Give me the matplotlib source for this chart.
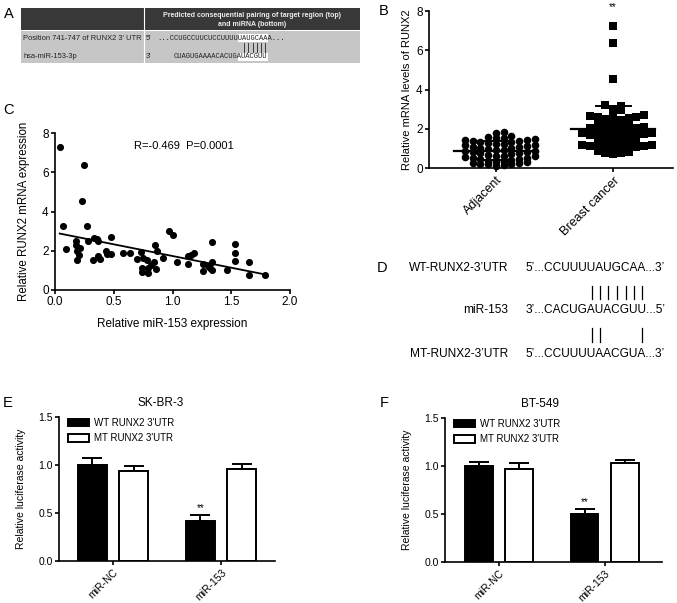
import numpy as np
import matplotlib
matplotlib.use('Agg')
import matplotlib.pyplot as plt
from matplotlib.patches import Rectangle

plt.rcParams['font.family'] = ['Liberation Sans', 'DejaVu Sans']

W, H = 677, 603

# ---- panel A: TargetScan table ----
a_header = 'Predicted consequential pairing of target region (top)\nand miRNA (bottom)'
a_rows = ["Position 741-747 of RUNX2 3' UTR", 'hsa-miR-153-3p']
a_ends = ["5'", "3'"]
a_top_seq = '...CCUGCCUUCUCCUUUUUAUGCAAA...'
a_bot_seq = 'CUAGUGAAAACACUGAUACGUU'
a_top_site = 'UAUGCAA'
a_bot_site = 'AUACGUU'

# ---- panel B: RUNX2 levels ----
b_groups = ['Adjacent', 'Breast cancer']
adjacent = [0.11, 0.15, 0.18, 0.20, 0.24, 0.27, 0.29, 0.22,
            0.32, 0.35, 0.38, 0.41, 0.44, 0.45, 0.49, 0.53, 0.56, 0.59,
            0.62, 0.63, 0.68, 0.71, 0.74, 0.77, 0.80, 0.83, 0.86, 0.89,
            0.91, 0.94, 0.97, 1.00, 1.04, 1.06, 1.09, 1.12, 1.15, 1.18,
            1.21, 1.24, 1.27, 1.30, 1.32, 1.36, 1.39, 1.41, 1.45, 1.48,
            1.51, 1.53, 1.58, 1.65, 1.80, 1.84]
breast_cancer = [0.72, 0.75, 0.78, 0.82, 0.86,
                 0.92, 0.95, 0.98, 1.00, 1.03, 1.06, 1.10, 1.13, 1.16, 1.19,
                 1.32, 1.35, 1.38, 1.42, 1.45, 1.48,
                 1.52, 1.55, 1.58, 1.60, 1.63, 1.66, 1.70, 1.73, 1.76, 1.79,
                 1.82, 1.86, 1.90, 1.94, 1.98, 2.02, 2.06, 2.09,
                 2.15, 2.22, 2.25, 2.30, 2.36,
                 2.42, 2.46, 2.50, 2.54, 2.58, 2.62, 2.66, 2.69,
                 2.80, 2.95, 3.02, 3.18, 3.22, 4.55, 6.35, 7.25]

# ---- panel C: correlation ----
mir153_expr = [0.04, 0.07, 0.09, 0.18, 0.18, 0.19, 0.21, 0.20, 0.19, 0.23,
               0.25, 0.27, 0.28, 0.32, 0.33, 0.36, 0.37, 0.37, 0.38, 0.43,
               0.44, 0.48, 0.48, 0.58, 0.64, 0.70, 0.73, 0.75, 0.74, 0.74,
               0.78, 0.79, 0.79, 0.82, 0.84, 0.85, 0.86, 0.87, 0.92, 0.97,
               1.00, 1.04, 1.13, 1.13, 1.16, 1.18, 1.26, 1.26, 1.30, 1.32,
               1.34, 1.34, 1.34, 1.46, 1.53, 1.53, 1.53, 1.65, 1.65, 1.79]
runx2_expr = [7.28, 3.27, 2.09, 2.52, 2.30, 2.00, 2.13, 1.79, 1.53, 4.56,
              6.35, 3.27, 2.52, 1.53, 2.64, 2.60, 2.52, 1.74, 1.57, 1.99,
              1.82, 1.84, 2.69, 1.87, 1.87, 1.57, 1.96, 1.65, 1.11, 0.90,
              1.53, 1.11, 0.85, 1.28, 1.41, 2.30, 1.06, 1.99, 1.65, 3.01,
              2.81, 1.41, 1.31, 1.74, 1.79, 1.87, 1.31, 0.97, 1.24, 1.14,
              1.45, 2.43, 1.02, 1.02, 2.35, 1.87, 1.48, 1.41, 0.77, 0.77]
c_stats = 'R=-0.469  P=0.0001'

# ---- panel D: binding sites ----
d_names = ['WT-RUNX2-3\u2019UTR', 'miR-153', 'MT-RUNX2-3\u2019UTR']
d_seqs = ["5\u2019...CCUUUUAUGCAA...3\u2019",
          "3\u2019...CACUGAUACGUU...5\u2019",
          "5\u2019...CCUUUUAACGUA...3\u2019"]

# ---- panels E/F: luciferase ----
luc_groups = ['miR-NC', 'miR-153']
luc_series = ["WT RUNX2 3'UTR", "MT RUNX2 3'UTR"]
skbr3_wt = [1.00, 0.42]
skbr3_wt_err = [0.07, 0.06]
skbr3_mt = [0.94, 0.955]
skbr3_mt_err = [0.05, 0.055]
bt549_wt = [1.00, 0.50]
bt549_wt_err = [0.04, 0.05]
bt549_mt = [0.97, 1.03]
bt549_mt_err = [0.06, 0.03]


def px_axes(fig, left, top, right, bottom):
    return fig.add_axes([left / W, 1 - bottom / H, (right - left) / W, (bottom - top) / H])


def style_axes(ax, size):
    for s in ['top', 'right']:
        ax.spines[s].set_visible(False)
    for s in ['left', 'bottom']:
        ax.spines[s].set_linewidth(1.2)
    ax.tick_params(direction='out', length=3, width=1.2, labelsize=size, pad=1.5)
    ax.set_facecolor('none')


def swarm_offsets(vals, bin_h, step):
    # GraphPad-like column scatter: bin by value, spread each bin sideways
    vals = np.asarray(vals)
    bins = np.floor(vals / bin_h).astype(int)
    offs = np.zeros(len(vals))
    for b in np.unique(bins):
        idx = np.where(bins == b)[0]
        idx = idx[np.argsort(vals[idx])]
        for k, i in enumerate(idx):
            offs[i] = ((k + 1) // 2) * step * (1 if k % 2 else -1)
    return offs


fig = plt.figure(figsize=(W / 100, H / 100), dpi=100)
ov = fig.add_axes([0, 0, 1, 1])
ov.set_xlim(0, W)
ov.set_ylim(H, 0)
ov.axis('off')
rend = fig.canvas.get_renderer()


def text_width(s, **kw):
    t = ov.text(0, 0, s, **kw)
    w = t.get_window_extent(renderer=rend).width
    t.remove()
    return w


# panel letters
for lab, x, y in [('A', 9, 14), ('B', 384, 11), ('C', 8, 110),
                  ('D', 382, 268), ('E', 8, 403), ('F', 384, 403)]:
    ov.text(x, y, lab, fontsize=10.5, ha='center', va='center')

# ---- A ----
ov.add_patch(Rectangle((21, 8), 339, 22, facecolor='#383838', edgecolor='none'))
ov.add_patch(Rectangle((21, 31), 339, 32, facecolor='#c6c6c6', edgecolor='none'))
ov.plot([143.5, 143.5], [8, 63], color='white', lw=0.8)
ov.text(252, 20, a_header, fontsize=5, fontweight='bold', color='#eeeeee',
        ha='center', va='center', linespacing=1.25)
for txt, end, y in zip(a_rows, a_ends, [38, 57]):
    ov.text(23, y, txt, fontsize=5.4, ha='left', va='center', color='#222222')
    ov.text(146, y, end, fontsize=5.4, ha='left', va='center', color='#222222')
mono = dict(fontsize=5.1, family='Liberation Mono')
cw = text_width('M' * 20, **mono) / 20
top_x0 = 157
top_site = a_top_seq.find(a_top_site)
bot_site = a_bot_seq.find(a_bot_site)
bot_x0 = top_x0 + (top_site - bot_site) * cw
ov.add_patch(Rectangle((top_x0 + top_site * cw, 33.5), len(a_top_site) * cw, 8,
                       facecolor='white', edgecolor='none'))
ov.add_patch(Rectangle((bot_x0 + bot_site * cw, 53), len(a_bot_site) * cw, 8,
                       facecolor='white', edgecolor='none'))
ov.text(top_x0, 38, a_top_seq, ha='left', va='center', color='#222222', **mono)
ov.text(bot_x0, 57, a_bot_seq, ha='left', va='center', color='#222222', **mono)
for i in range(top_site + 1, top_site + len(a_top_site)):
    xb = top_x0 + (i + 0.5) * cw
    ov.plot([xb, xb], [43, 52], color='#222222', lw=0.6)

# ---- B ----
axb = px_axes(fig, 429, 11, 673, 168)
style_axes(axb, 8.5)
for gi, (vals, mk) in enumerate(zip([adjacent, breast_cancer], ['o', 's'])):
    v = np.asarray(vals)
    xs = gi + swarm_offsets(v, 0.3, 0.066)
    axb.scatter(xs, v, s=30 if mk == 'o' else 26, marker=mk, color='black',
                linewidths=0, zorder=2, clip_on=False)
    m, sd = v.mean(), v.std(ddof=1)
    axb.plot([gi - 0.36, gi + 0.36], [m, m], color='black', lw=1.6, zorder=3)
    axb.plot([gi, gi], [m - sd, m + sd], color='black', lw=1.4, zorder=3)
    for yy in [m - sd, m + sd]:
        axb.plot([gi - 0.15, gi + 0.15], [yy, yy], color='black', lw=1.4, zorder=3)
axb.text(1, max(breast_cancer) + 0.95, '**', ha='center', va='center', fontsize=7,
         clip_on=False)
axb.set_xlim(-0.57, 1.51)
axb.set_ylim(0, 8)
axb.set_yticks([0, 2, 4, 6, 8])
axb.set_xticks([0, 1])
axb.set_xticklabels(b_groups, rotation=45, ha='right', rotation_mode='anchor', fontsize=9)
axb.set_ylabel('Relative mRNA levels of RUNX2', fontsize=8, labelpad=3)

# ---- C ----
axc = px_axes(fig, 55, 133, 290, 290)
style_axes(axc, 8.5)
cx = np.asarray(mir153_expr)
cy = np.asarray(runx2_expr)
axc.scatter(cx, cy, s=26, color='black', linewidths=0, zorder=3, clip_on=False)
k, b0 = np.polyfit(cx, cy, 1)
xl = np.array([cx.min(), cx.max()])
axc.plot(xl, k * xl + b0, color='black', lw=1.3, zorder=2)
axc.text(1.1, 7.35, c_stats, ha='center', va='center', fontsize=8)
axc.set_xlim(0, 2)
axc.set_ylim(0, 8)
axc.set_xticks([0, 0.5, 1.0, 1.5, 2.0])
axc.set_xticklabels(['0.0', '0.5', '1.0', '1.5', '2.0'])
axc.set_yticks([0, 2, 4, 6, 8])
axc.set_xlabel('Relative miR-153 expression', fontsize=8.5, labelpad=7)
axc.set_ylabel('Relative RUNX2 mRNA expression', fontsize=8.3, labelpad=9)

# ---- D ----
dfont = dict(fontsize=8.6)
d_rows_y = [268, 310, 354]
seq_x0 = 526
for name, seq, y in zip(d_names, d_seqs, d_rows_y):
    ov.text(508, y, name, ha='right', va='center', **dfont)
    ov.text(seq_x0, y, seq, ha='left', va='center', **dfont)
pairs = {('A', 'U'), ('U', 'A'), ('G', 'C'), ('C', 'G')}
for upper, lower, y0, y1 in [(d_seqs[0], d_seqs[1], 286, 299),
                             (d_seqs[2], d_seqs[1], 328, 342)]:
    for i, (p, q) in enumerate(zip(upper, lower)):
        if (p, q) in pairs:
            xb = seq_x0 + text_width(upper[:i], **dfont) + text_width(upper[i], **dfont) / 2
            ov.plot([xb, xb], [y0, y1], color='black', lw=0.9)


# ---- E / F ----
def luc_panel(rect, title, title_x, wt, wt_err, mt, mt_err, xlim):
    ax = px_axes(fig, *rect)
    style_axes(ax, 7.5)
    x = np.arange(len(luc_groups))
    bw, off = 0.26, 0.19
    zeros = np.zeros(len(x))
    ax.bar(x - off, wt, bw, color='black', edgecolor='black', lw=1.4,
           label=luc_series[0], zorder=2)
    ax.bar(x + off, mt, bw, color='white', edgecolor='black', lw=1.4,
           label=luc_series[1], zorder=2)
    ax.errorbar(x - off, wt, yerr=[zeros, wt_err], fmt='none', ecolor='black',
                elinewidth=1.4, capsize=7, capthick=1.4, zorder=1)
    ax.errorbar(x + off, mt, yerr=[zeros, mt_err], fmt='none', ecolor='black',
                elinewidth=1.4, capsize=7, capthick=1.4, zorder=1)
    ax.text(x[1] - off, wt[1] + wt_err[1] + 0.02, '**', ha='center', va='bottom',
            fontsize=7)
    ax.set_xlim(*xlim)
    ax.set_ylim(0, 1.5)
    ax.set_yticks([0, 0.5, 1.0, 1.5])
    ax.set_yticklabels(['0.0', '0.5', '1.0', '1.5'])
    ax.set_xticks(x)
    ax.set_xticklabels(luc_groups, rotation=45, ha='right', rotation_mode='anchor',
                       fontsize=7.5)
    ax.set_ylabel('Relative luciferase activity', fontsize=7.5, labelpad=9)
    ax.set_title(title, fontsize=8.5, pad=8, x=title_x)
    ax.legend(loc='upper left', bbox_to_anchor=(0.025, 1.02), frameon=False,
              fontsize=7, handlelength=2.1, handleheight=0.75, handletextpad=0.5,
              labelspacing=0.55, borderaxespad=0)
    return ax


luc_panel((59, 417, 275, 561), 'SK-BR-3', 0.47, skbr3_wt, skbr3_wt_err, skbr3_mt,
          skbr3_mt_err, (-0.5, 1.5))
luc_panel((445, 418, 662, 562), 'BT-549', 0.44, bt549_wt, bt549_wt_err, bt549_mt,
          bt549_mt_err, (-0.51, 1.54))

fig.savefig('out.png', dpi=100)
